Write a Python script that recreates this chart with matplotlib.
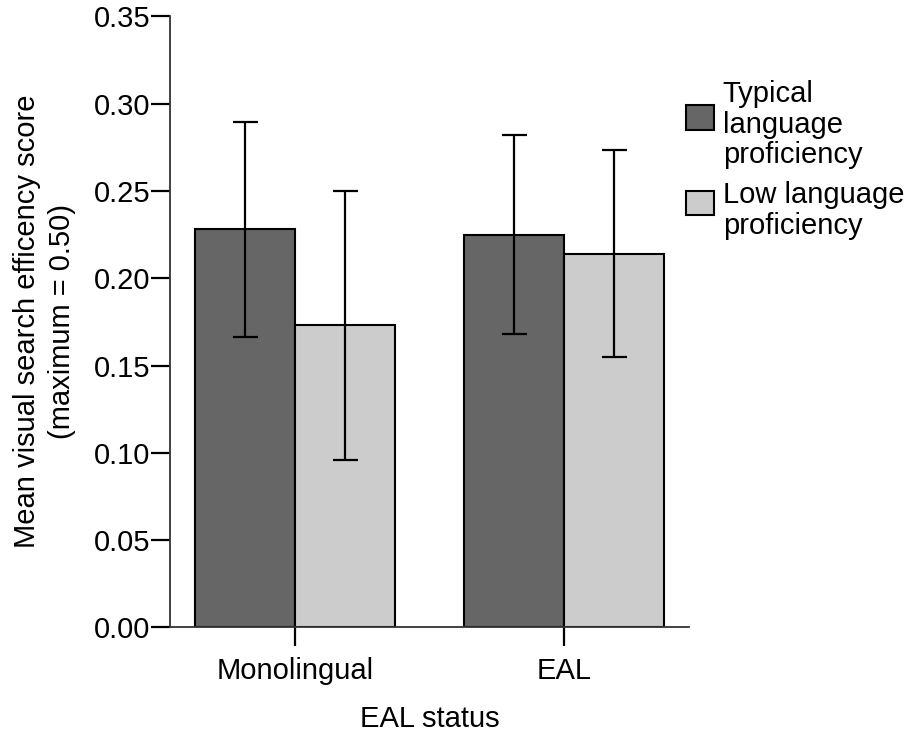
import matplotlib
matplotlib.use("Agg")
import matplotlib.pyplot as plt
from matplotlib.patches import Patch, Rectangle
from matplotlib.legend_handler import HandlerPatch
import numpy as np

plt.rcParams["font.family"] = ["Liberation Sans", "DejaVu Sans"]

# Mean visual search efficiency with error-bar half widths
groups = ["Monolingual", "EAL"]
series = ["Typical\nlanguage\nproficiency", "Low language\nproficiency"]
typical_mean = [0.228, 0.225]
typical_err = [0.0617, 0.0568]
low_mean = [0.173, 0.214]
low_err = [0.077, 0.0594]
yticks = [0.00, 0.05, 0.10, 0.15, 0.20, 0.25, 0.30, 0.35]

colors = ["#666666", "#cccccc"]
fs = 21

fig = plt.figure(figsize=(9.09, 7.35), dpi=100)
ax = fig.add_axes([0.1865, 0.1464, 0.7583 - 0.1865, 0.9778 - 0.1464])

x = np.arange(len(groups))
w = 0.372
for off, means, errs, col in [(-w / 2, typical_mean, typical_err, colors[0]),
                              (w / 2, low_mean, low_err, colors[1])]:
    ax.bar(x + off, means, width=w, color=col, edgecolor="black",
           linewidth=1.5, zorder=2)
    ax.errorbar(x + off, means, yerr=errs, fmt="none", ecolor="black",
                elinewidth=1.6, capsize=9, capthick=1.6, zorder=3)

ax.set_xlim(-0.4665, 1.4658)
ax.set_ylim(0, 0.35)
ax.set_yticks(yticks)
ax.set_yticklabels([f"{t:.2f}" for t in yticks], fontsize=fs)
ax.set_xticks(x)
ax.set_xticklabels(groups, fontsize=fs)
ax.tick_params(axis="y", direction="out", length=14, width=1.6, pad=0,
               color="black")
ax.tick_params(axis="x", direction="out", length=14, width=1.6, pad=7,
               color="black")

for s in ["top", "right"]:
    ax.spines[s].set_visible(False)
for s in ["left", "bottom"]:
    ax.spines[s].set_linewidth(1.3)
    ax.spines[s].set_color("#333333")

ax.set_xlabel("EAL status", fontsize=fs, labelpad=15)
fig.text(0.0300, 0.5625, "Mean visual search efficency score",
         rotation=90, ha="center", va="center", fontsize=fs)
fig.text(0.0680, 0.5625, "(maximum = 0.50)",
         rotation=90, ha="center", va="center", fontsize=fs)


def raised_box(legend, orig_handle, xdescent, ydescent, width, height, fontsize):
    # legend swatch nudged upward relative to its multi-line label
    return Rectangle((-xdescent, -ydescent + 6), width, height)


handles = [Patch(facecolor=c, edgecolor="black", linewidth=1.5) for c in colors]
leg = fig.legend(handles, series, loc="upper left",
                 bbox_to_anchor=(686 / 909, 1 - 80 / 735),
                 frameon=False, fontsize=fs, handlelength=0.96,
                 handleheight=0.92, handletextpad=0.3, labelspacing=0.4,
                 borderpad=0, borderaxespad=0,
                 handler_map={Patch: HandlerPatch(patch_func=raised_box)})
for t in leg.get_texts():
    t.set_linespacing(1.12)

fig.savefig("out.png", dpi=100)
